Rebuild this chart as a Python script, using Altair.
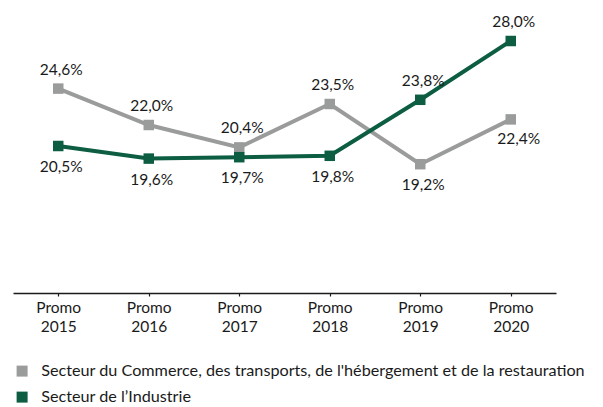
import altair as alt
import pandas as pd

years = ["2015", "2016", "2017", "2018", "2019", "2020"]
commerce = [24.6, 22.0, 20.4, 23.5, 19.2, 22.4]
industrie = [20.5, 19.6, 19.7, 19.8, 23.8, 28.0]
commerce_pos = ["a", "a", "a", "a", "b", "br"]
industrie_pos = ["b", "b", "b", "b", "a", "a"]

s_com = "Secteur du Commerce, des transports, de l'hébergement et de la restauration"
s_ind = "Secteur de l\u2019Industrie"
series = [s_com, s_ind]
colors = ["#9a9b9b", "#0c5d42"]

rows = []
for y, v, p in zip(years, commerce, commerce_pos):
    rows.append({"year": y, "value": v, "serie": s_com, "pos": p,
                 "label": f"{v:.1f}".replace(".", ",") + "%"})
for y, v, p in zip(years, industrie, industrie_pos):
    rows.append({"year": y, "value": v, "serie": s_ind, "pos": p,
                 "label": f"{v:.1f}".replace(".", ",") + "%"})
df = pd.DataFrame(rows)

FONT = "Lato"
TXT = "#1a1a1a"

x = alt.X("year:N", title=None, sort=years,
          scale=alt.Scale(type="point", padding=0.5),
          axis=alt.Axis(labelExpr="['Promo', datum.label]", labelAngle=0,
                        labelFont=FONT, labelFontSize=15.5,
                        labelColor=TXT,
                        labelLineHeight=19, labelPadding=4, labelBaseline="top",
                        domainColor=TXT, domainWidth=1.5,
                        tickColor=TXT, tickSize=3, tickWidth=1.2, ticks=True,
                        grid=False))
y = alt.Y("value:Q", title=None, scale=alt.Scale(domain=[10, 30], nice=False, zero=False),
          axis=None)
color = alt.Color("serie:N", title=None,
                  scale=alt.Scale(domain=series, range=colors),
                  legend=alt.Legend(orient="none", legendX=1, legendY=350,
                                    symbolType="square", symbolSize=121,
                                    symbolStrokeWidth=0, labelFont=FONT,
                                    labelFontSize=16.2,
                                    labelColor=TXT,
                                    rowPadding=9, labelOffset=11, labelLimit=700,
                                    direction="vertical"))

base = alt.Chart(df).encode(x=x, y=y)

lines = base.mark_line(strokeWidth=4).encode(color=color)
points = base.mark_point(shape="square", filled=True, size=110, opacity=1).encode(
    color=alt.Color("serie:N", scale=alt.Scale(domain=series, range=colors), legend=None))

txt_kw = dict(font=FONT, fontSize=15.5, color=TXT, baseline="middle")
above = base.transform_filter("datum.pos == 'a'").mark_text(dy=-19, dx=3, **txt_kw).encode(text="label:N")
below = base.transform_filter("datum.pos == 'b'").mark_text(dy=21, dx=3, **txt_kw).encode(text="label:N")
below_r = base.transform_filter("datum.pos == 'br'").mark_text(dy=20, dx=8, **txt_kw).encode(text="label:N")

chart = alt.layer(lines, points, above, below, below_r).properties(
    width=543, height=280, padding={"left": 5, "top": 5, "right": 5, "bottom": 5}
).configure_view(stroke=None)

chart.save("out.html", embed_options={"renderer": "svg", "actions": False})
